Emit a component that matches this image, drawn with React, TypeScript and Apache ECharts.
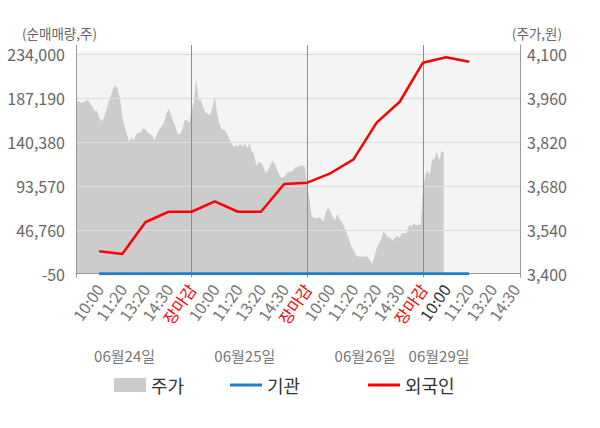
import React, { useEffect, useRef } from 'react';
import * as echarts from 'echarts';

// ---- data ----
const DAYS = ['06월24일', '06월25일', '06월26일', '06월29일'];
const SLOT_LABELS = ['10:00', '11:20', '13:20', '14:30', '장마감'];
const STEPS_PER_SLOT = 10;
const SLOTS_PER_DAY = 5;
const LAST_STEP = 192;

const LEFT_MIN = -50;
const LEFT_TOP_TICK = 234000;
const LEFT_INTERVAL = 46810;
const RIGHT_MIN = 3400;
const RIGHT_TOP_TICK = 4100;
const RIGHT_INTERVAL = 140;

// investor net buying (shares) at 10:00, 11:20, 13:20, 14:30, close of each day
const FOREIGN = [23900, 21000, 54800, 66000, 66000, 77100, 66000, 66000, 95600, 97000, 107000, 121900, 161000, 183300, 224900, 230700, 226000];
const INSTITUTION = [0, 0, -50, -50, 0, 0, 0, 0, 0, 0, 0, 0, 0, 0, 0, 0, 0];

// share price (won)
const PRICE = [
  3945, 3950, 3945, 3945, 3950, 3955, 3945, 3935, 3920, 3920,
  3900, 3885, 3895, 3920, 3945, 3965, 3990, 4000, 3990, 3960,
  3900, 3870, 3845, 3820, 3835, 3825, 3845, 3850, 3850, 3865,
  3860, 3850, 3845, 3840, 3825, 3845, 3860, 3870, 3880, 3910,
  3925, 3910, 3885, 3870, 3845, 3845, 3860, 3890, 3890, 3880,
  3920, 3950, 4020, 3955, 3955, 3930, 3915, 3910, 3905, 3930,
  3965, 3910, 3880, 3860, 3860, 3850, 3835, 3820, 3805, 3810,
  3805, 3815, 3805, 3815, 3800, 3815, 3790, 3780, 3745, 3755,
  3755, 3740, 3720, 3730, 3745, 3760, 3750, 3730, 3715, 3705,
  3710, 3720, 3725, 3725, 3730, 3740, 3740, 3745, 3745, 3740,
  3675, 3635, 3580, 3580, 3575, 3580, 3575, 3565, 3595, 3610,
  3600, 3580, 3570, 3590, 3575, 3565, 3550, 3530, 3510, 3490,
  3475, 3460, 3455, 3455, 3455, 3455, 3455, 3445, 3430, 3455,
  3480, 3495, 3510, 3535, 3525, 3515, 3515, 3505, 3515, 3520,
  3515, 3530, 3530, 3530, 3555, 3550, 3560, 3555, 3555, 3555,
  3665, 3710, 3730, 3715, 3765, 3765, 3790, 3760, 3790, 3790,
];

// layout constants
const DAY_LABEL_STEPS = [21, 73, 125, 157];
const FONT = '"Noto Sans CJK KR", "Noto Sans", sans-serif';

export default function App() {
  const ref = useRef<HTMLDivElement>(null);

  useEffect(() => {
    if (!ref.current) return;
    const chart = echarts.init(ref.current, undefined, { renderer: 'svg' });

    const categories = Array.from({ length: LAST_STEP + 1 }, (_, i) => String(i));
    const foreignData: (number | null)[] = categories.map(() => null);
    const instData: (number | null)[] = categories.map(() => null);
    FOREIGN.forEach((v, k) => { foreignData[(k + 1) * STEPS_PER_SLOT] = v; });
    INSTITUTION.forEach((v, k) => { instData[(k + 1) * STEPS_PER_SLOT] = v; });

    // axis extents: plot extends ~9px above the top tick
    const pxPerTick = 43.9;
    const extraPx = 9.2;
    const leftMax = LEFT_TOP_TICK + (extraPx / pxPerTick) * LEFT_INTERVAL;
    const rightMax = RIGHT_TOP_TICK + (extraPx / pxPerTick) * RIGHT_INTERVAL;
    const bgTop = LEFT_TOP_TICK + (2.5 / pxPerTick) * LEFT_INTERVAL;

    const dayStep = STEPS_PER_SLOT * SLOTS_PER_DAY;

    const option: any = {
      animation: false,
      textStyle: { fontFamily: FONT },
      grid: { left: 76, right: 80, top: 45, bottom: 154.3, containLabel: false },
      graphic: [
        { type: 'text', left: 22, top: 26, style: { text: '(순매매량,주)', fontSize: 13.5, fill: '#666', fontFamily: FONT } },
        { type: 'text', right: 38, top: 26, style: { text: '(주가,원)', fontSize: 13.5, fill: '#666', fontFamily: FONT } },
      ],
      legend: [
        {
          left: 114, top: 376, padding: 0, selectedMode: false,
          itemWidth: 32, itemHeight: 14,
          textStyle: { fontSize: 18, color: '#333', fontFamily: FONT },
          data: [{ name: '주가', icon: 'rect', itemStyle: { color: '#cccccc' } }],
        },
        {
          left: 230, top: 376, padding: 0, selectedMode: false,
          itemWidth: 32, itemHeight: 3,
          textStyle: { fontSize: 18, color: '#333', fontFamily: FONT },
          data: [{ name: '기관', icon: 'rect', itemStyle: { color: '#1f7fcc' } }],
        },
        {
          left: 368, top: 376, padding: 0, selectedMode: false,
          itemWidth: 32, itemHeight: 3,
          textStyle: { fontSize: 18, color: '#333', fontFamily: FONT },
          data: [{ name: '외국인', icon: 'rect', itemStyle: { color: '#ff0000' } }],
        },
      ],
      xAxis: [
        {
          type: 'category',
          data: categories,
          boundaryGap: false,
          z: 3,
          axisLine: { onZero: false, lineStyle: { color: '#999' } },
          axisTick: {
            show: true, length: 4, lineStyle: { color: '#999' },
            interval: (i: number) => i % dayStep === 0 || i === LAST_STEP,
          },
          splitLine: {
            show: true,
            lineStyle: { color: '#8c8c8c' },
            interval: (i: number) => i > 0 && i < LAST_STEP && i % dayStep === 0,
          },
          axisLabel: {
            interval: (i: number) => i > 0 && i % STEPS_PER_SLOT === 0,
            rotate: 55,
            margin: 12,
            fontSize: 16,
            color: '#777',
            fontFamily: FONT,
            formatter: (_v: string, index: number) => {
              if (index === 0 || index % STEPS_PER_SLOT !== 0) return '';
              const slot = index / STEPS_PER_SLOT;
              const day = Math.floor((slot - 1) / SLOTS_PER_DAY);
              const pos = (slot - 1) % SLOTS_PER_DAY;
              const txt = SLOT_LABELS[pos];
              if (pos === SLOTS_PER_DAY - 1) return `{close|${txt}}`;
              if (day === DAYS.length - 1 && pos === 0) return `{now|${txt}}`;
              return txt;
            },
            rich: {
              close: { color: '#ff0000', fontSize: 16, fontFamily: FONT },
              now: { color: '#333', fontSize: 16, fontFamily: FONT },
            },
          },
        },
        {
          type: 'category',
          data: categories,
          boundaryGap: false,
          position: 'bottom',
          offset: 66,
          axisLine: { show: false, onZero: false },
          axisTick: { show: false },
          splitLine: { show: false },
          axisLabel: {
            interval: (i: number) => DAY_LABEL_STEPS.includes(i),
            margin: 8,
            fontSize: 15,
            color: '#777',
            fontFamily: FONT,
            formatter: (_v: string, index: number) => {
              const d = DAY_LABEL_STEPS.indexOf(index);
              return d >= 0 ? DAYS[d] : '';
            },
          },
        },
      ],
      yAxis: [
        {
          type: 'value',
          position: 'left',
          min: LEFT_MIN,
          max: leftMax,
          interval: LEFT_INTERVAL,
          z: 3,
          axisLine: { show: true, lineStyle: { color: '#999' } },
          axisTick: { show: false },
          splitLine: { show: true, showMaxLine: false, lineStyle: { color: '#dddddd' } },
          axisLabel: {
            margin: 11,
            fontSize: 16,
            color: '#666',
            fontFamily: FONT,
            formatter: (v: number) => (v > LEFT_TOP_TICK + 1 ? '' : Math.round(v).toLocaleString('en-US')),
          },
        },
        {
          type: 'value',
          position: 'right',
          min: RIGHT_MIN,
          max: rightMax,
          interval: RIGHT_INTERVAL,
          z: 3,
          axisLine: { show: true, lineStyle: { color: '#999' } },
          axisTick: { show: false },
          splitLine: { show: false },
          axisLabel: {
            margin: 7,
            fontSize: 16,
            color: '#666',
            fontFamily: FONT,
            formatter: (v: number) => (v > RIGHT_TOP_TICK + 0.5 ? '' : Math.round(v).toLocaleString('en-US')),
          },
        },
      ],
      series: [
        {
          name: '주가',
          type: 'line',
          xAxisIndex: 0,
          yAxisIndex: 1,
          data: PRICE,
          symbol: 'none',
          z: 2,
          itemStyle: { color: '#cccccc' },
          lineStyle: { width: 0, color: '#cccccc' },
          areaStyle: { color: '#cccccc', opacity: 1 },
          silent: true,
        },
        {
          name: '외국인',
          type: 'line',
          xAxisIndex: 0,
          yAxisIndex: 0,
          data: foreignData,
          connectNulls: true,
          symbol: 'none',
          z: 4,
          itemStyle: { color: '#ff0000' },
          lineStyle: { width: 2.5, color: '#ff0000' },
          markArea: {
            silent: true,
            z: 1,
            itemStyle: { color: '#f4f4f4' },
            label: { show: false },
            data: [[{ yAxis: LEFT_MIN }, { yAxis: bgTop }]],
          },
        },
        {
          name: '기관',
          type: 'line',
          xAxisIndex: 0,
          yAxisIndex: 0,
          data: instData,
          connectNulls: true,
          symbol: 'none',
          z: 5,
          itemStyle: { color: '#1f7fcc' },
          lineStyle: { width: 3, color: '#1f7fcc' },
        },
      ],
    };

    chart.setOption(option);
    return () => chart.dispose();
  }, []);

  return (
    <div
      ref={ref}
      style={{ position: 'absolute', left: 0, top: 0, width: 600, height: 428, background: '#fff' }}
    />
  );
}
